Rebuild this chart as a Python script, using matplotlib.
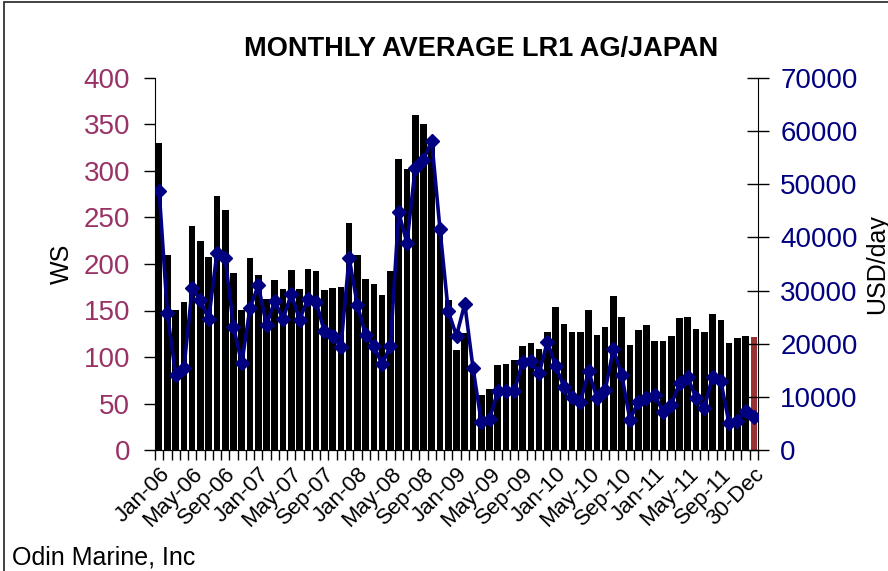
import matplotlib.pyplot as plt
import numpy as np
import pandas as pd
from matplotlib.patches import Rectangle

plt.rcParams['font.family'] = ['Liberation Sans', 'DejaVu Sans']

# monthly WS rates (bars) and TCE earnings USD/day (line), Jan-06 .. Dec-11 + spot
ws = [330, 210, 151, 159, 241, 225, 208, 273, 258, 190,
      151, 206, 188, 162, 183, 173, 194, 173, 195, 192,
      172, 174, 175, 244, 210, 184, 178, 167, 192, 313,
      302, 360, 351, 330, 235, 161, 107, 126, 88, 59,
      66, 91, 92, 97, 112, 115, 109, 127, 154, 135,
      127, 127, 151, 124, 132, 166, 143, 113, 129, 134,
      117, 117, 123, 142, 143, 130, 127, 146, 140, 115,
      120, 123, 122]
usd = [48800, 25700, 14100, 15400, 30400, 28200, 24600, 37100, 36100, 23200,
       16300, 26700, 31000, 23500, 28100, 24600, 29400, 24500, 28400, 27900,
       22300, 21500, 19400, 36200, 27300, 21600, 19600, 16100, 19600, 44700,
       39000, 53000, 54600, 58200, 41500, 26100, 21500, 27500, 15400, 5300,
       5800, 11100, 11100, 11100, 16600, 16800, 14400, 20400, 15800, 11900,
       10000, 9100, 14800, 9800, 11300, 19000, 14100, 5700, 9100, 9700,
       10400, 7200, 8500, 12600, 13700, 9700, 7900, 13800, 12900, 5000,
       5500, 7300, 6200]
categories = list(pd.date_range("2006-01-01", "2011-12-01", freq="MS").strftime("%b-%y")) + ["30-Dec"]

ws_color = "#993366"
usd_color = "#000080"

fig = plt.figure(figsize=(8.88, 5.71), dpi=100)
ax = fig.add_axes([155 / 888, 1 - 450 / 571, 603 / 888, 372 / 571])

x = np.arange(len(categories))
bar_colors = ["black"] * (len(x) - 1) + ["#993333"]
ax.bar(x, ws, width=0.8, color=bar_colors, zorder=2)
ax.set_xlim(-0.5, len(x) - 0.5)
ax.set_ylim(0, 400)
ax.set_yticks(np.arange(0, 401, 50))
ax.tick_params(axis="y", direction="out", length=8, width=1, labelsize=20,
               labelcolor=ws_color, pad=10)
ax.set_ylabel("WS", fontsize=18, labelpad=7)

# ticks at category boundaries, labels every 4th category
ax.set_xticks(np.arange(-0.5, len(x), 1))
ax.set_xticklabels([])
ax.tick_params(axis="x", which="major", direction="out", length=7, width=1)
lab_pos = x[::4]
ax.set_xticks(lab_pos, minor=True)
ax.set_xticklabels([categories[i] for i in lab_pos], minor=True, rotation=45,
                   ha="right", va="top", rotation_mode="anchor", fontsize=16)
ax.tick_params(axis="x", which="minor", length=0, pad=10)

ax.spines["top"].set_visible(False)
ax.spines["right"].set_visible(False)

ax2 = ax.twinx()
ax2.plot(x, usd, color=usd_color, lw=2.6, marker="D", markersize=7, zorder=3)
ax2.set_ylim(0, 70000)
ax2.set_yticks(np.arange(0, 70001, 10000))
ax2.tick_params(axis="y", direction="inout", length=16, width=1, labelsize=20,
                labelcolor=usd_color, pad=8)
ax2.set_ylabel("USD/day", fontsize=18, labelpad=5)
ax2.spines["top"].set_visible(False)
ax2.spines["left"].set_visible(False)

fig.text(481 / 888, 1 - 49 / 571, "MONTHLY AVERAGE LR1 AG/JAPAN", fontsize=19.5,
         fontweight="bold", ha="center", va="center")
fig.text(12 / 888, 7 / 571, "Odin Marine, Inc", fontsize=18, ha="left", va="baseline")

# outer chart border (right and bottom edges fall outside the picture)
fig.patches.append(Rectangle((4 / 888, -0.1), 1.2, 1.1 - 2 / 571,
                             transform=fig.transFigure, fill=False,
                             edgecolor="#222222", lw=1.2))

plt.savefig("out.png", dpi=100)
plt.close()
